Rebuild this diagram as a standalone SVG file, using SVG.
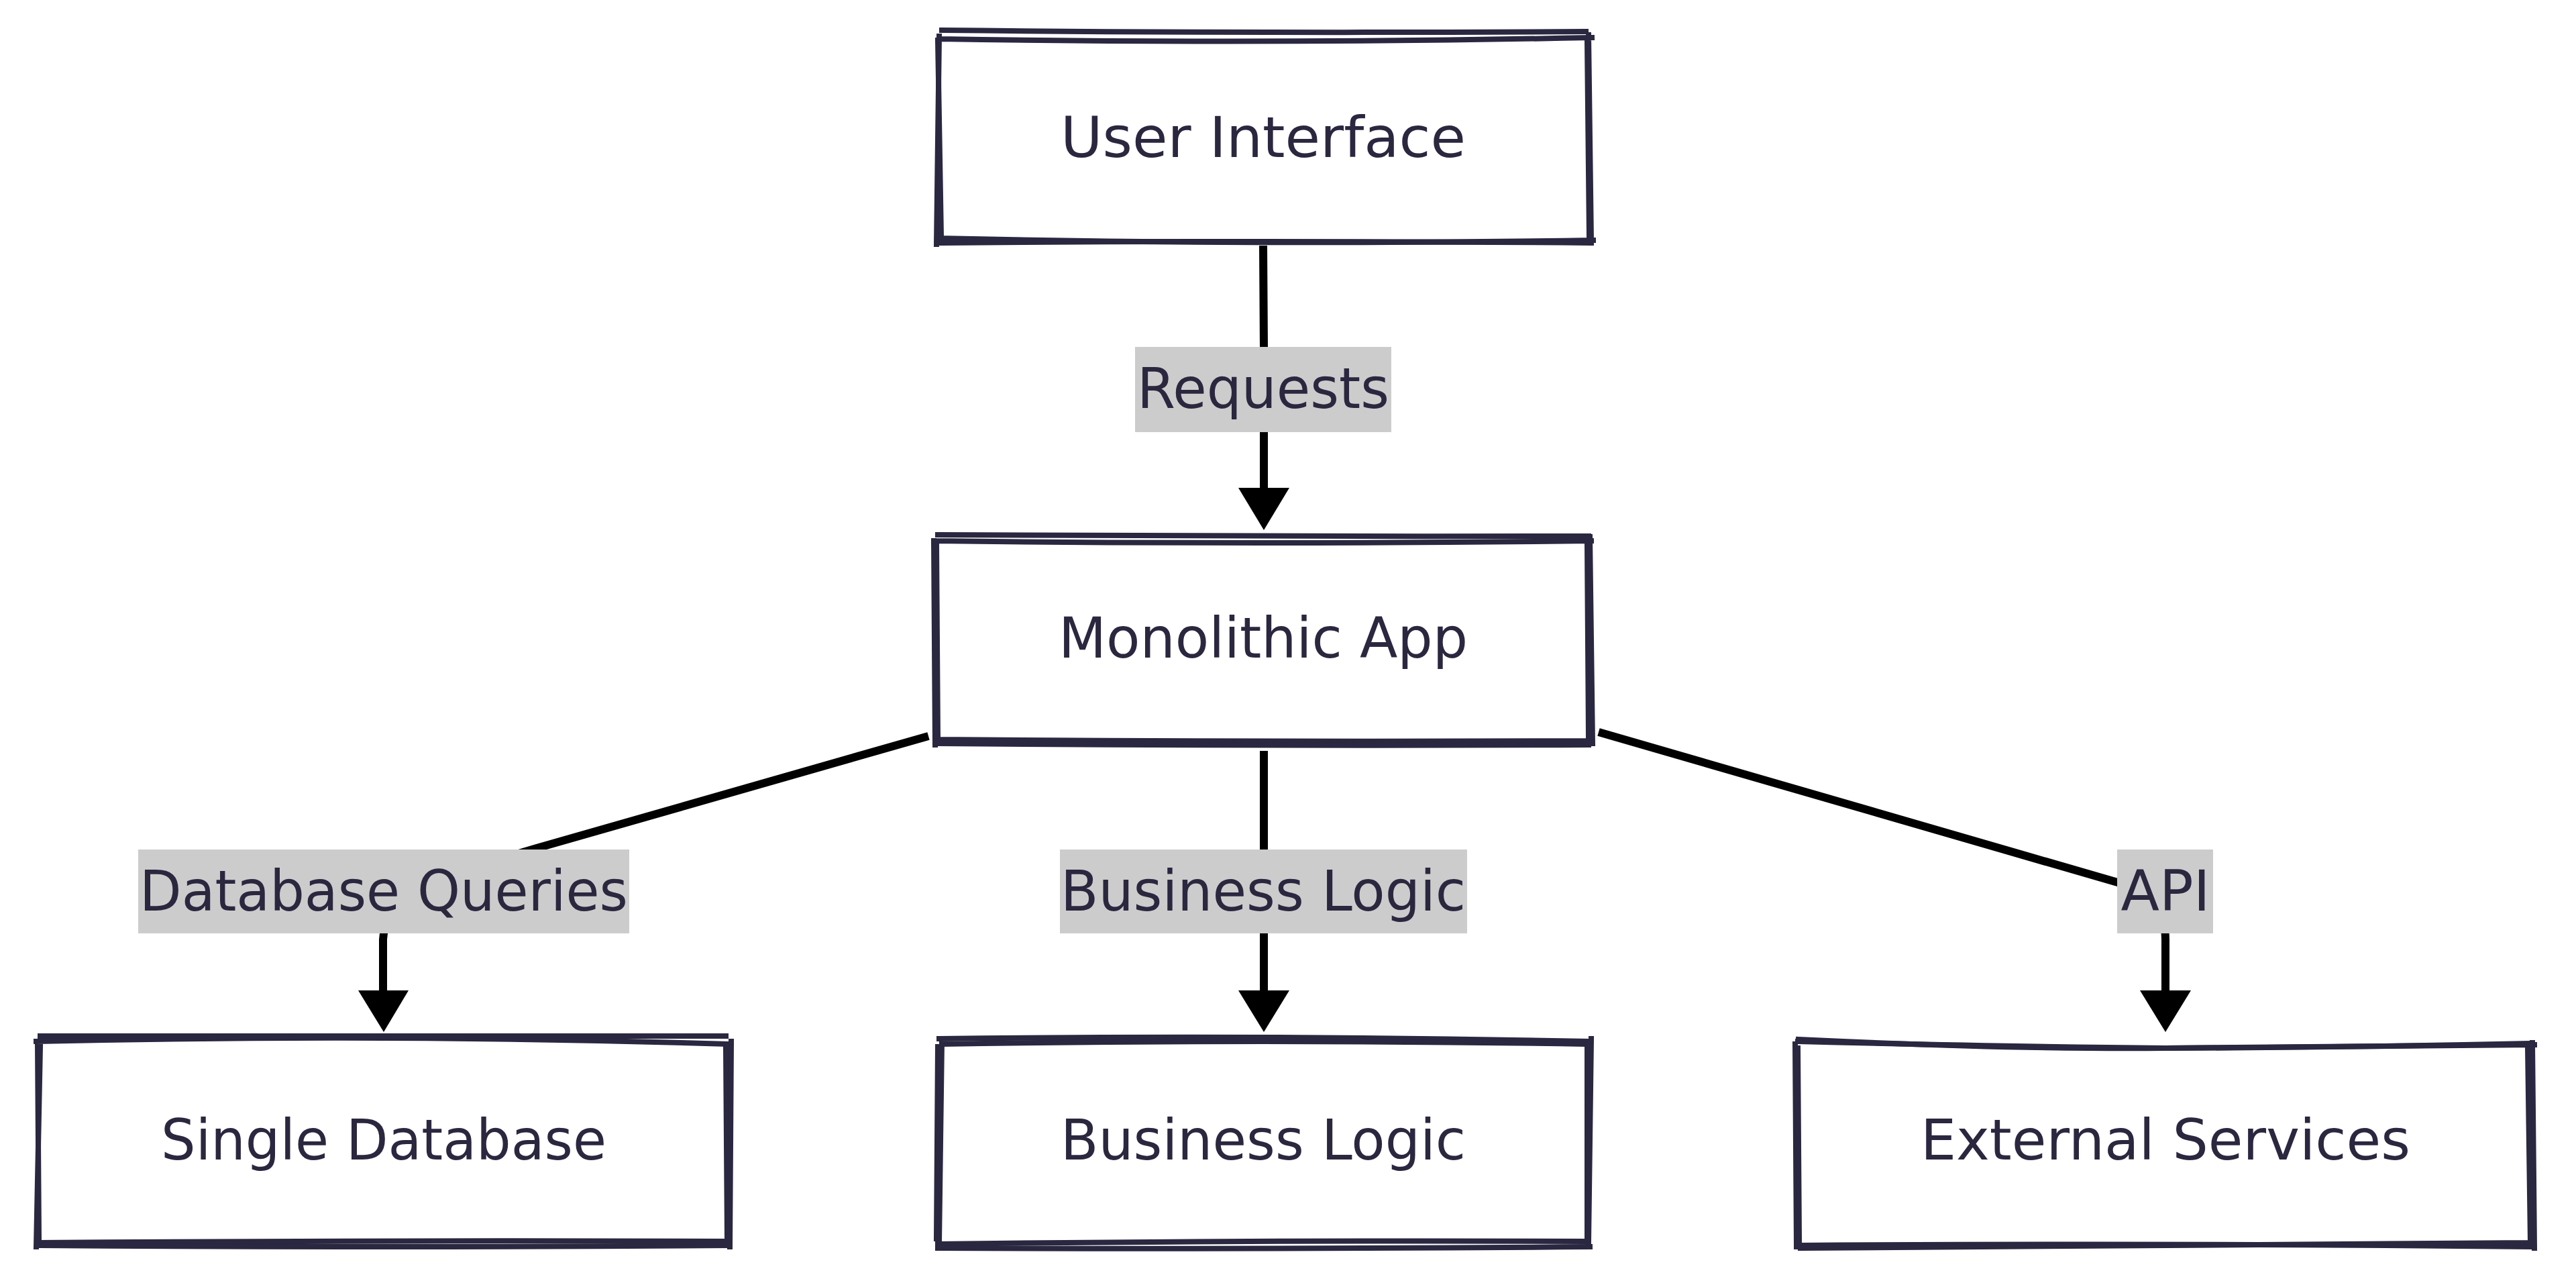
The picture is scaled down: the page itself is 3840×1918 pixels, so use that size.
<svg xmlns="http://www.w3.org/2000/svg" width="3840" height="1918" viewBox="0 0 3840 1918">
<style>
.bg{fill:#ffffff}
.box{fill:#ffffff;stroke:none}
.sk{fill:none;stroke:#2a2740;stroke-width:8;stroke-linecap:square;stroke-linejoin:miter}
.t{font-family:"DejaVu Sans","Liberation Sans",sans-serif;font-size:84px;fill:#2a273f;text-anchor:middle}
.edge{fill:none;stroke:#000000;stroke-width:12}
.head{fill:#000000;stroke:none}
.lbl{fill:#cccccc}
</style>
<rect class="bg" x="0" y="0" width="3840" height="1918"/>
<g id="connectors">
  <path class="edge" d="M1883,366 L1884,520 L1884,730"/>
  <polygon class="head" points="1846,727 1922,727 1884,790"/>
  <path class="edge" d="M1384,1097 L800,1264 Q571,1330 571,1400 L571,1478"/>
  <polygon class="head" points="534,1476 609,1476 572,1538"/>
  <path class="edge" d="M1884,1119 L1884,1478"/>
  <polygon class="head" points="1846,1476 1922,1476 1884,1538"/>
  <path class="edge" d="M2383,1091 L3160,1316 Q3228,1340 3228,1400 L3228,1478"/>
  <polygon class="head" points="3190,1476 3266,1476 3228,1538"/>
  <g id="edge-labels">
    <rect class="lbl" x="1692" y="517" width="382" height="127"/>
    <text class="t" x="1883" y="608" textLength="376" lengthAdjust="spacingAndGlyphs">Requests</text>
    <rect class="lbl" x="206" y="1266" width="732" height="125"/>
    <text class="t" x="572" y="1357" textLength="728" lengthAdjust="spacingAndGlyphs">Database Queries</text>
    <rect class="lbl" x="1580" y="1266" width="607" height="125"/>
    <text class="t" x="1883" y="1357" textLength="604" lengthAdjust="spacingAndGlyphs">Business Logic</text>
    <rect class="lbl" x="3156" y="1266" width="143" height="125"/>
    <text class="t" x="3228" y="1357">API</text>
  </g>
</g>
<g id="node-ui">
  <rect class="box" x="1398" y="50" width="970" height="310"/>
  <path class="sk" d="M1401,58 Q1883,66 2373,56 M2368,52 L2372,360 M2375,358 Q1883,366 1400,355 M1396,364 L1400,54"/>
  <path class="sk" d="M1404,45 Q1883,50 2364,47 M2366,62 L2369,352 M2372,362 Q1883,358 1404,362 M1403,352 L1398,60"/>
  <text class="t" x="1883" y="234" textLength="604" lengthAdjust="spacingAndGlyphs">User Interface</text>
</g>
<g id="node-mono">
  <rect class="box" x="1392" y="800" width="980" height="306"/>
  <path class="sk" d="M1394,806 Q1883,812 2372,806 M2370,800 L2374,1108 M2373,1104 Q1883,1106 1396,1102 M1394,1110 L1392,806"/>
  <path class="sk" d="M1398,797 Q1883,800 2368,799 M2366,812 L2368,1098 M2368,1110 Q1883,1112 1400,1108 M1398,1100 L1396,812"/>
  <text class="t" x="1883" y="980" textLength="610" lengthAdjust="spacingAndGlyphs">Monolithic App</text>
</g>
<g id="node-db">
  <rect class="box" x="56" y="1548" width="1032" height="304"/>
  <path class="sk" d="M54,1552 Q570,1540 1086,1556 M1090,1552 L1088,1858 M1086,1850 Q570,1848 56,1852 M58,1846 L56,1554"/>
  <path class="sk" d="M60,1544 Q570,1542 1082,1544 M1082,1562 L1084,1846 M1088,1856 Q570,1860 60,1856 M54,1858 L60,1560"/>
  <text class="t" x="572" y="1728" textLength="664" lengthAdjust="spacingAndGlyphs">Single Database</text>
</g>
<g id="node-bl">
  <rect class="box" x="1400" y="1550" width="966" height="300"/>
  <path class="sk" d="M1400,1548 Q1883,1542 2370,1552 M2372,1548 L2368,1852 M2366,1850 Q1883,1848 1398,1854 M1400,1852 L1404,1552"/>
  <path class="sk" d="M1404,1556 Q1883,1548 2364,1556 M2366,1562 L2366,1846 M2370,1858 Q1883,1862 1398,1860 M1396,1846 L1398,1560"/>
  <text class="t" x="1883" y="1728" textLength="604" lengthAdjust="spacingAndGlyphs">Business Logic</text>
</g>
<g id="node-ext">
  <rect class="box" x="2680" y="1552" width="1094" height="300"/>
  <path class="sk" d="M2681,1549 Q3000,1564 3228,1562 Q3500,1560 3778,1557 M3775,1554 L3778,1860 M3774,1858 Q3228,1852 2682,1856 M2678,1858 L2676,1556"/>
  <path class="sk" d="M2680,1552 Q3000,1560 3228,1562 Q3500,1561 3772,1555 M3768,1560 L3772,1852 M3768,1852 Q3228,1858 2684,1860 M2682,1848 L2680,1562"/>
  <text class="t" x="3228" y="1728" textLength="730" lengthAdjust="spacingAndGlyphs">External Services</text>
</g>
</svg>
